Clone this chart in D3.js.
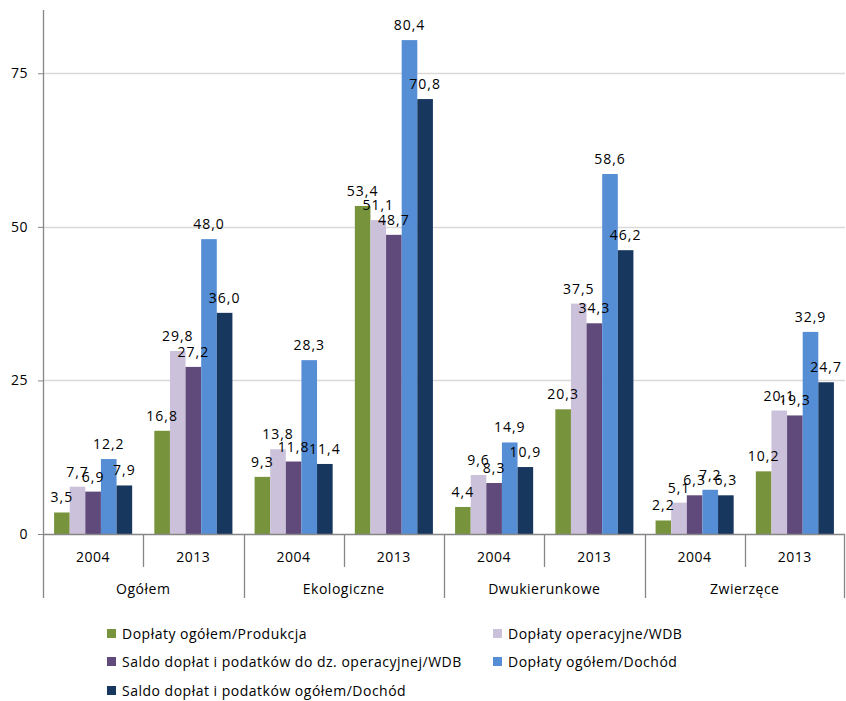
<!DOCTYPE html>
<html>
<head>
<meta charset="utf-8">
<script src="https://cdn.jsdelivr.net/npm/d3@7"></script>
<style>
  body { margin: 0; background: #fff; }
  text { font-family: "Open Sans", "Noto Sans", sans-serif; fill: #000; letter-spacing: 0.5px; }
</style>
</head>
<body>
<div id="chart"></div>
<script>
// chart data
var groups = ['Ogółem', 'Ekologiczne', 'Dwukierunkowe', 'Zwierzęce'];
var years = ['2004', '2013'];
var seriesNames = [
  'Dopłaty ogółem/Produkcja',
  'Dopłaty operacyjne/WDB',
  'Saldo dopłat i podatków do dz. operacyjnej/WDB',
  'Dopłaty ogółem/Dochód',
  'Saldo dopłat i podatków ogółem/Dochód'
];
var seriesColors = ['#77933C', '#CCC1DA', '#604A7B', '#558ED5', '#17375E'];
// one row per group/year, one value per series
var values = [
  [3.5, 7.7, 6.9, 12.2, 7.9],
  [16.8, 29.8, 27.2, 48.0, 36.0],
  [9.3, 13.8, 11.8, 28.3, 11.4],
  [53.4, 51.1, 48.7, 80.4, 70.8],
  [4.4, 9.6, 8.3, 14.9, 10.9],
  [20.3, 37.5, 34.3, 58.6, 46.2],
  [2.2, 5.1, 6.3, 7.2, 6.3],
  [10.2, 20.1, 19.3, 32.9, 24.7]
];
var yTicks = [0, 25, 50, 75];

var width = 846, height = 701;
var plotLeft = 43, plotRight = 845, plotTop = 10, plotBottom = 534;
var fontSize = 14;

var svg = d3.select('#chart').append('svg')
  .attr('width', width)
  .attr('height', height);

var cats = [];
groups.forEach(function(g) {
  years.forEach(function(yr) { cats.push(g + '|' + yr); });
});

var x = d3.scaleBand().domain(cats).range([plotLeft, plotRight]).paddingInner(0).paddingOuter(0);
var xs = d3.scaleBand().domain(d3.range(seriesNames.length))
  .range([0, x.bandwidth()]).paddingInner(0).paddingOuter(0.71);
var y = d3.scaleLinear().domain([0, 85.3]).range([plotBottom, plotTop]);

// gridlines
svg.append('g').selectAll('line')
  .data(yTicks.filter(function(t) { return t > 0; })).enter()
  .append('line')
  .attr('x1', plotLeft).attr('x2', plotRight)
  .attr('y1', function(t) { return Math.round(y(t)) + 0.5; })
  .attr('y2', function(t) { return Math.round(y(t)) + 0.5; })
  .attr('stroke', '#d9d9d9').attr('stroke-width', 1.3);

// y axis
var yAxis = svg.append('g')
  .attr('transform', 'translate(' + plotLeft + ',0)')
  .call(d3.axisLeft(y).tickValues(yTicks).tickSize(5).tickPadding(10).tickFormat(d3.format('d')));
yAxis.select('.domain').remove();
yAxis.selectAll('line').attr('stroke', '#868686');
yAxis.selectAll('text').attr('font-size', fontSize).attr('fill', '#000')
  .style('font-family', '"Open Sans", sans-serif');
svg.append('line')
  .attr('x1', plotLeft + 0.5).attr('x2', plotLeft + 0.5)
  .attr('y1', plotTop).attr('y2', 598)
  .attr('stroke', '#868686').attr('stroke-width', 1.3);

// bars
var catG = svg.append('g').selectAll('g')
  .data(values).enter()
  .append('g')
  .attr('transform', function(d, i) { return 'translate(' + x(cats[i]) + ',0)'; });

catG.selectAll('rect')
  .data(function(d) { return d; }).enter()
  .append('rect')
  .attr('x', function(d, i) { return xs(i); })
  .attr('width', xs.bandwidth())
  .attr('y', function(d) { return y(d); })
  .attr('height', function(d) { return plotBottom - y(d); })
  .attr('fill', function(d, i) { return seriesColors[i]; });

catG.selectAll('text')
  .data(function(d) { return d; }).enter()
  .append('text')
  .attr('x', function(d, i) { return xs(i) + xs.bandwidth() / 2; })
  .attr('y', function(d) { return y(d) - 10; })
  .attr('text-anchor', 'middle')
  .attr('font-size', fontSize)
  .style('letter-spacing', '1px')
  .text(function(d) { return d.toFixed(1).replace('.', ','); });

// x axis line
svg.append('line')
  .attr('x1', plotLeft).attr('x2', plotRight)
  .attr('y1', plotBottom + 0.5).attr('y2', plotBottom + 0.5)
  .attr('stroke', '#868686').attr('stroke-width', 1.3);

// category separators
svg.append('g').selectAll('line')
  .data(cats.slice(1)).enter()
  .append('line')
  .attr('x1', function(c) { return Math.round(x(c)) + 0.5; })
  .attr('x2', function(c) { return Math.round(x(c)) + 0.5; })
  .attr('y1', plotBottom)
  .attr('y2', function(c, i) { return (i % 2 === 0) ? 567 : 598; })
  .attr('stroke', '#868686').attr('stroke-width', 1.3);
svg.append('line')
  .attr('x1', plotRight - 0.5).attr('x2', plotRight - 0.5)
  .attr('y1', plotBottom).attr('y2', 598)
  .attr('stroke', '#868686').attr('stroke-width', 1.3);

// year labels
svg.append('g').selectAll('text')
  .data(cats).enter()
  .append('text')
  .attr('x', function(c) { return x(c) + x.bandwidth() / 2; })
  .attr('y', 562)
  .attr('text-anchor', 'middle')
  .attr('font-size', fontSize)
  .text(function(c) { return c.split('|')[1]; });

// group labels
svg.append('g').selectAll('text')
  .data(groups).enter()
  .append('text')
  .attr('x', function(g) { return x(g + '|2004') + x.bandwidth(); })
  .attr('y', 594)
  .attr('text-anchor', 'middle')
  .attr('font-size', fontSize)
  .text(function(g) { return g; });

// legend
var legendPos = [
  [107, 634], [493, 634],
  [107, 662], [493, 662],
  [107, 691]
];
var legend = svg.append('g').selectAll('g')
  .data(seriesNames).enter()
  .append('g')
  .attr('transform', function(d, i) { return 'translate(' + legendPos[i][0] + ',' + legendPos[i][1] + ')'; });
legend.append('rect')
  .attr('x', 0).attr('y', -5)
  .attr('width', 9).attr('height', 9)
  .attr('fill', function(d, i) { return seriesColors[i]; });
legend.append('text')
  .attr('x', 15).attr('y', 5)
  .attr('font-size', fontSize)
  .text(function(d) { return d; });
</script>
</body>
</html>
